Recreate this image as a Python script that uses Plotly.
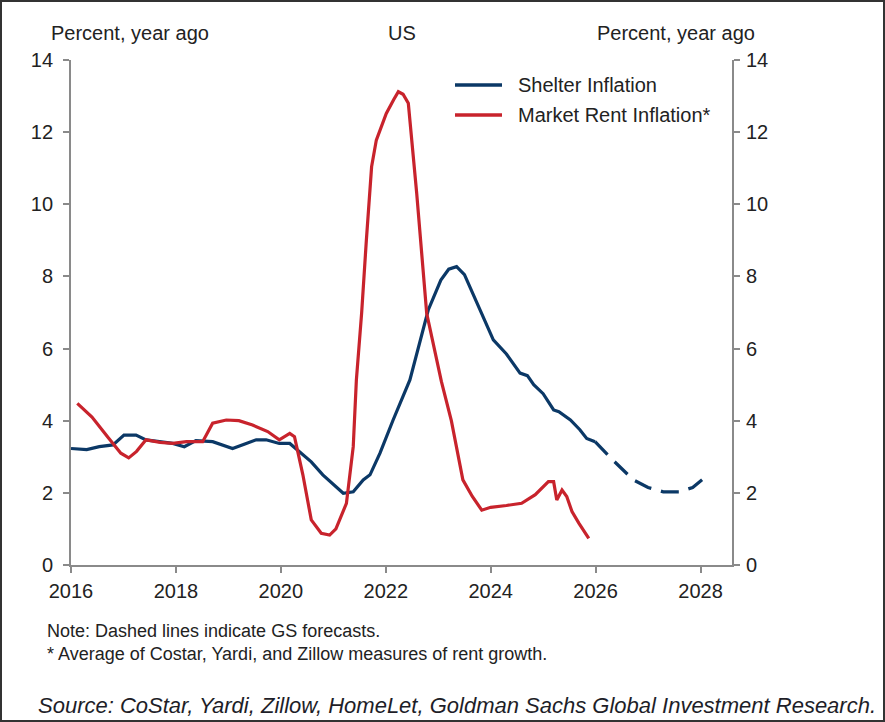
import plotly.graph_objects as go

# Shelter inflation (actual)
shelter_x = [2016.0, 2016.3, 2016.54, 2016.8, 2017.01, 2017.24, 2017.43, 2017.68, 2017.94, 2018.16,
             2018.38, 2018.7, 2019.08, 2019.34, 2019.53, 2019.72, 2019.97, 2020.17, 2020.36, 2020.58,
             2020.8, 2021.06, 2021.19, 2021.38, 2021.57, 2021.7, 2021.89, 2022.14, 2022.46, 2022.81,
             2023.05, 2023.2, 2023.35, 2023.5, 2023.8, 2023.95, 2024.05, 2024.3, 2024.56, 2024.7,
             2024.82, 2025.0, 2025.2, 2025.3, 2025.52, 2025.7, 2025.83, 2025.99]
shelter_y = [3.23, 3.2, 3.28, 3.33, 3.6, 3.6, 3.47, 3.42, 3.37, 3.28,
             3.45, 3.42, 3.23, 3.37, 3.47, 3.47, 3.37, 3.37, 3.14, 2.86,
             2.5, 2.17, 1.99, 2.03, 2.36, 2.5, 3.1, 4.02, 5.13, 7.07,
             7.9, 8.2, 8.27, 8.05, 7.07, 6.6, 6.24, 5.85, 5.32, 5.25,
             5.0, 4.75, 4.3, 4.25, 4.02, 3.75, 3.51, 3.42]

# Shelter inflation (GS forecast)
forecast_x = [2025.99, 2026.3, 2026.72, 2027.0, 2027.29, 2027.6, 2027.85, 2028.03]
forecast_y = [3.42, 2.95, 2.36, 2.15, 2.03, 2.03, 2.15, 2.36]

# Market rent inflation
rent_x = [2016.12, 2016.4, 2016.7, 2016.95, 2017.1, 2017.25, 2017.43, 2017.7, 2017.94, 2018.2,
          2018.51, 2018.7, 2018.96, 2019.2, 2019.46, 2019.75, 2019.97, 2020.17, 2020.26, 2020.42,
          2020.58, 2020.77, 2020.93, 2021.05, 2021.25, 2021.38, 2021.44, 2021.54, 2021.63, 2021.73,
          2021.82, 2022.01, 2022.15, 2022.24, 2022.33, 2022.43, 2022.59, 2022.78, 2023.06, 2023.25,
          2023.47, 2023.65, 2023.83, 2024.0, 2024.3, 2024.59, 2024.85, 2025.1, 2025.2, 2025.26,
          2025.36, 2025.45, 2025.55, 2025.68, 2025.87]
rent_y = [4.48, 4.1, 3.55, 3.1, 2.97, 3.15, 3.47, 3.4, 3.37, 3.42,
          3.42, 3.93, 4.02, 4.0, 3.88, 3.7, 3.47, 3.65, 3.56, 2.5,
          1.25, 0.88, 0.83, 1.0, 1.71, 3.28, 5.13, 6.98, 9.0, 11.04,
          11.78, 12.52, 12.9, 13.12, 13.05, 12.8, 10.3, 6.98, 5.09, 4.0,
          2.36, 1.9, 1.52, 1.6, 1.65, 1.71, 1.95, 2.31, 2.31, 1.8,
          2.08, 1.9, 1.48, 1.16, 0.74]

x_ticks = [2016, 2018, 2020, 2022, 2024, 2026, 2028]
y_ticks = [0, 2, 4, 6, 8, 10, 12, 14]
series_names = ["Shelter Inflation", "Market Rent Inflation*"]

BLUE = "#0b3866"
RED = "#c8232c"
FONT = "Liberation Sans, Arial, sans-serif"
TXT = "#222222"

# plot area in pixels
L, R, T, B = 71, 732, 60, 565
W, H = R - L, B - T


def px(x):
    return (x - L) / W


def py(y):
    return (B - y) / H


fig = go.Figure()
fig.add_trace(go.Scatter(x=shelter_x, y=shelter_y, mode="lines", name=series_names[0],
                         line=dict(color=BLUE, width=3.2)))
fig.add_trace(go.Scatter(x=rent_x, y=rent_y, mode="lines", name=series_names[1],
                         line=dict(color=RED, width=3.2)))
fig.add_trace(go.Scatter(x=forecast_x, y=forecast_y, mode="lines",
                         line=dict(color=BLUE, width=3.2, dash="18px,10px")))
fig.add_trace(go.Scatter(x=[2016], y=[0], yaxis="y2", mode="lines",
                         line=dict(width=0), hoverinfo="skip"))

axis_common = dict(showgrid=False, zeroline=False, showline=True, linecolor="#8a8a8a", linewidth=1.8,
                   ticks="outside", ticklen=6, tickcolor="#8a8a8a", tickwidth=1.5,
                   tickfont=dict(family=FONT, size=20, color=TXT))

fig.update_layout(
    width=885, height=722,
    margin=dict(l=L, r=885 - R, t=T, b=722 - B),
    paper_bgcolor="white", plot_bgcolor="white",
    font=dict(family=FONT, color=TXT),
    xaxis=dict(range=[2016, 2028.6], tickvals=x_ticks, ticktext=[str(t) for t in x_ticks],
               ticklabelstandoff=1, **axis_common),
    yaxis=dict(range=[0, 14], tickvals=y_ticks, ticklabelstandoff=6, **axis_common),
    yaxis2=dict(range=[0, 14], tickvals=y_ticks, overlaying="y", side="right",
                ticklabelstandoff=2, **axis_common),
    showlegend=False,
)

# manual legend
for name, color, y in [(series_names[0], BLUE, 85), (series_names[1], RED, 115)]:
    fig.add_shape(type="line", xref="paper", yref="paper", x0=px(455), x1=px(502), y0=py(y), y1=py(y),
                  line=dict(color=color, width=3.5))
    fig.add_annotation(text=name, xref="paper", yref="paper", x=px(516), y=py(y),
                       xanchor="left", yanchor="middle", showarrow=False,
                       font=dict(family=FONT, size=20, color=TXT))

ann = [
    ("Percent, year ago", 49, "left"),
    ("US", 402, "center"),
    ("Percent, year ago", 757, "right"),
]
for t, x, xa in ann:
    fig.add_annotation(text=t, xref="paper", yref="paper", x=px(x), y=py(33),
                       xanchor=xa, yanchor="middle", showarrow=False,
                       font=dict(family=FONT, size=20, color=TXT))

notes = [
    ("Note: Dashed lines indicate GS forecasts.", 45, 631),
    ("* Average of Costar, Yardi, and Zillow measures of rent growth.", 45, 654),
]
for t, x, y in notes:
    fig.add_annotation(text=t, xref="paper", yref="paper", x=px(x), y=py(y),
                       xanchor="left", yanchor="middle", showarrow=False,
                       font=dict(family=FONT, size=18, color=TXT))

fig.add_annotation(text="<i>Source: CoStar, Yardi, Zillow, HomeLet, Goldman Sachs Global Investment Research.</i>",
                   xref="paper", yref="paper", x=px(36), y=py(705),
                   xanchor="left", yanchor="middle", showarrow=False,
                   font=dict(family=FONT, size=22, color="#1e1e28"))

# outer border
fig.add_shape(type="rect", xref="paper", yref="paper",
              x0=px(1), x1=px(884), y0=py(721), y1=py(1),
              line=dict(color="#333333", width=2), fillcolor="rgba(0,0,0,0)", layer="below")

fig.write_html("out.html", config={"displayModeBar": False},
               post_script="document.body.style.margin='0';document.body.style.overflow='hidden';")
